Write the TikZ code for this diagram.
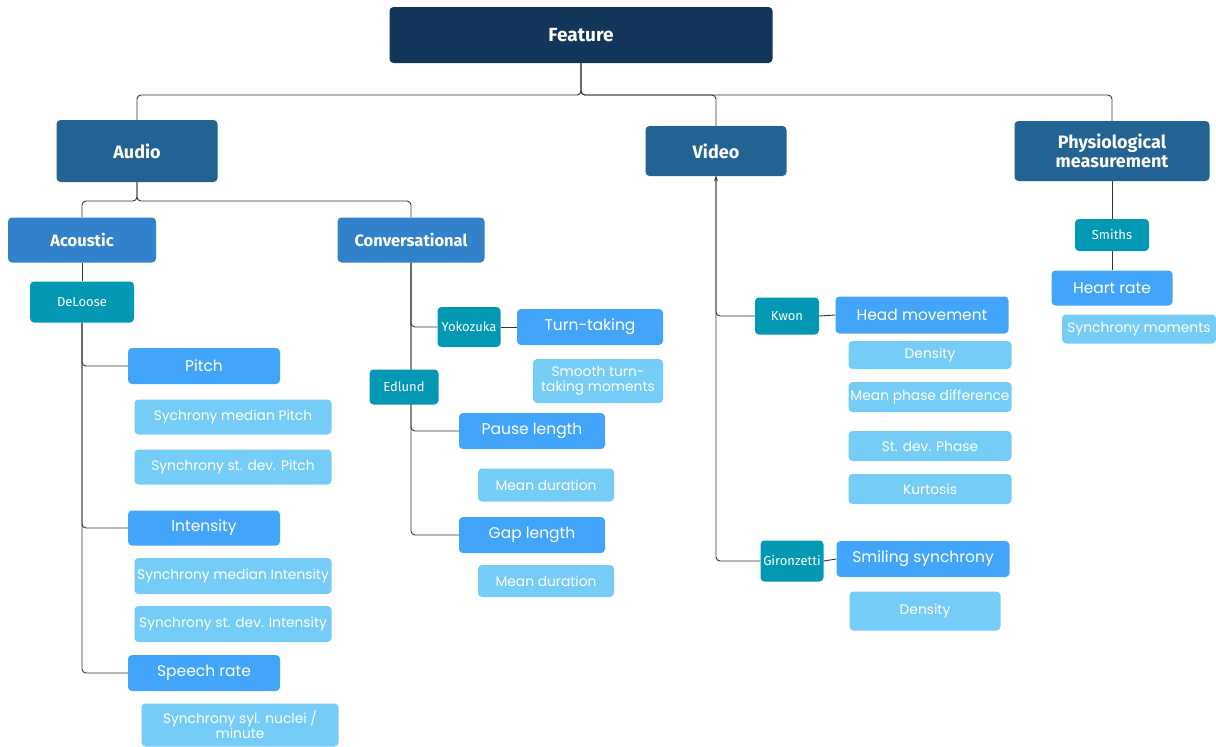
\documentclass[tikz,border=0pt]{standalone}
\usepackage{fontspec}
\setmainfont{Poppins}
\newfontfamily\headfont{Fira Sans}
\newfontfamily\authfont{Fira Sans}
\usetikzlibrary{arrows.meta}
\pgfdeclarelayer{bg}
\pgfsetlayers{bg,main}
\definecolor{cfeat}{HTML}{12355A}
\definecolor{clvl}{HTML}{236394}
\definecolor{csub}{HTML}{3182CB}
\definecolor{cauth}{HTML}{0298B3}
\definecolor{cmid}{HTML}{42A5FA}
\definecolor{clight}{HTML}{74CCF7}
\tikzset{
  box/.style={rectangle, rounded corners=4pt, inner sep=0pt, text=white, align=center},
  featbox/.style={box, fill=cfeat, font=\headfont\bfseries\fontsize{19}{21}\selectfont},
  lvlbox/.style={box, fill=clvl, font=\headfont\bfseries\fontsize{18}{19.5}\selectfont},
  subbox/.style={box, fill=csub, font=\headfont\bfseries\fontsize{16.5}{18}\selectfont},
  authbox/.style={box, fill=cauth, font=\authfont\fontsize{13}{15}\selectfont},
  midbox/.style={box, fill=cmid, font=\fontsize{15.5}{17}\selectfont},
  lightbox/.style={box, fill=clight, font=\fontsize{13.8}{15}\selectfont},
  conn/.style={draw=black!80, line width=0.9pt, rounded corners=4pt},
}
\begin{document}
\begin{tikzpicture}[x=1pt,y=-1pt]
\useasboundingbox (0,0) rectangle (1216,747);
% top
\node[featbox, minimum width=383, minimum height=56] (feat) at (581,35) {Feature};
\node[lvlbox, minimum width=161, minimum height=62] (audio) at (137,151) {Audio};
\node[lvlbox, minimum width=141, minimum height=50] (video) at (716,151) {Video};
\node[lvlbox, minimum width=195, minimum height=60] (phys) at (1112,151) {Physiological\\measurement};
% audio
\node[subbox, minimum width=148, minimum height=45] (acou) at (82,240) {Acoustic};
\node[subbox, minimum width=147, minimum height=45] (conv) at (411,240) {Conversational};
\node[authbox, minimum width=104, minimum height=41] (delo) at (82,302) {DeLoose};
\node[midbox, minimum width=152, minimum height=36] (pitch) at (204,366) {Pitch};
\node[lightbox, minimum width=197, minimum height=35] (p1) at (233,417) {Sychrony median Pitch};
\node[lightbox, minimum width=197, minimum height=35] (p2) at (233,467) {Synchrony st. dev. Pitch};
\node[midbox, minimum width=152, minimum height=35] (inten) at (204,528) {Intensity};
\node[lightbox, minimum width=197, minimum height=36] (i1) at (233,576) {Synchrony median Intensity};
\node[lightbox, minimum width=197, minimum height=36] (i2) at (233,624) {Synchrony st. dev. Intensity};
\node[midbox, minimum width=152, minimum height=36] (speech) at (204,673) {Speech rate};
\node[lightbox, minimum width=197, minimum height=43] (s1) at (240,725) {Synchrony syl. nuclei /\\minute};
% conversational
\node[authbox, minimum width=63, minimum height=40] (yoko) at (469,327) {Yokozuka};
\node[midbox, minimum width=146, minimum height=36] (turn) at (590,327) {Turn-taking};
\node[lightbox, minimum width=130, minimum height=44] (t1) at (598,381) {Smooth turn-\\taking moments};
\node[authbox, minimum width=69, minimum height=35] (edl) at (404,387) {Edlund};
\node[midbox, minimum width=146, minimum height=36] (pause) at (532,431) {Pause length};
\node[lightbox, minimum width=136, minimum height=33] (pa1) at (546,485) {Mean duration};
\node[midbox, minimum width=146, minimum height=36] (gap) at (532,535) {Gap length};
\node[lightbox, minimum width=136, minimum height=32] (g1) at (546,581) {Mean duration};
% video
\node[authbox, minimum width=64, minimum height=37] (kwon) at (787,316) {Kwon};
\node[midbox, minimum width=173, minimum height=37] (head) at (922,315) {Head movement};
\node[lightbox, minimum width=163, minimum height=28] (h1) at (930,355) {Density};
\node[lightbox, minimum width=163, minimum height=30] (h2) at (930,397) {Mean phase difference};
\node[lightbox, minimum width=163, minimum height=30] (h3) at (930,446) {St. dev. Phase};
\node[lightbox, minimum width=163, minimum height=30] (h4) at (930,489) {Kurtosis};
\node[authbox, minimum width=63, minimum height=41] (giro) at (792,561) {Gironzetti};
\node[midbox, minimum width=173, minimum height=36] (smile) at (923,559) {Smiling synchrony};
\node[lightbox, minimum width=151, minimum height=39] (sm1) at (925,611) {Density};
% physiological
\node[authbox, minimum width=74, minimum height=32] (smiths) at (1112,235) {Smiths};
\node[midbox, minimum width=121, minimum height=35] (heart) at (1112,288) {Heart rate};
\node[lightbox, minimum width=154, minimum height=29] (hr1) at (1139,329) {Synchrony moments};
% connectors
\begin{pgfonlayer}{bg}
\coordinate (fj) at (581,95);
\draw[conn] (feat.south) -- (feat.south |- fj) -| (audio.north);
\draw[conn] (feat.south) -- (feat.south |- fj) -| (video.north);
\draw[conn] (feat.south) -- (feat.south |- fj) -| (phys.north);
\coordinate (aj) at (137,201);
\draw[conn] (audio.south) -- (audio.south |- aj) -| (acou.north);
\draw[conn] (audio.south) -- (audio.south |- aj) -| (conv.north);
\draw[conn] (acou.south) -- (delo.north);
\draw[conn] (delo.south) |- (pitch.west);
\draw[conn] (delo.south) |- (inten.west);
\draw[conn] (delo.south) |- (speech.west);
\draw[conn] (conv.south) |- (yoko.west);
\draw[conn] (conv.south) |- (pause.west);
\draw[conn] (conv.south) |- (gap.west);
\draw[conn] (yoko.east) -- (turn.west);
\draw[conn] (kwon.west) -| (video.south);
\draw[conn, -{Stealth[length=5pt,width=4pt]}] (giro.west) -| (video.south);
\draw[conn] (kwon.east) -- (head.west);
\draw[conn] (giro.east) -- (smile.west);
\draw[conn] (phys.south) -- (smiths.north);
\draw[conn] (smiths.south) -- (heart.north);
\end{pgfonlayer}
\end{tikzpicture}
\end{document}
